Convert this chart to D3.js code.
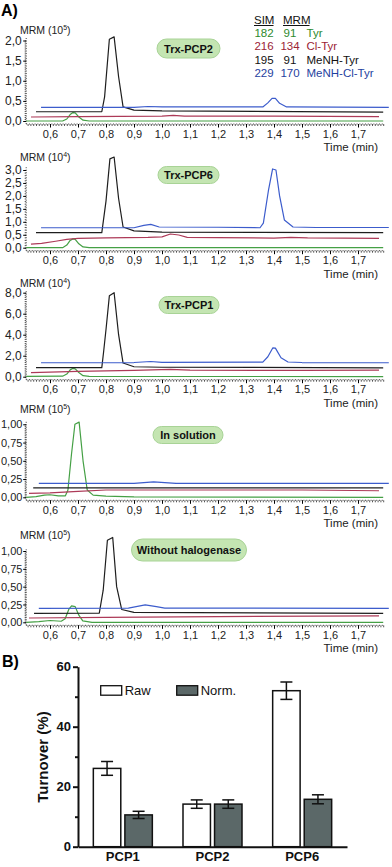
<!DOCTYPE html>
<html>
<head>
<meta charset="utf-8">
<script src="https://cdn.jsdelivr.net/npm/d3@7"></script>
<style>
body { margin: 0; background: #fff; }
svg { display: block; font-family: "Liberation Sans", Arial, sans-serif; }
</style>
</head>
<body>
<svg id="chart" width="392" height="867"></svg>
<script>
// ---- chromatogram data: [time (min), MRM intensity] ----
const timeTicks = [0.6, 0.7, 0.8, 0.9, 1.0, 1.1, 1.2, 1.3, 1.4, 1.5, 1.6, 1.7];

const tyrPCP2 = [[0.515,0],[0.645,0],[0.66,0.05],[0.672,0.16],[0.682,0.21],[0.69,0.2],[0.703,0.1],[0.718,0.02],[0.74,0],[1.79,0]];
const clTyrPCP2 = [[0.532,0.1],[0.7,0.11],[1.0,0.12],[1.04,0.14],[1.08,0.12],[1.4,0.12],[1.775,0.11]];
const meTyrPCP2 = [[0.55,0.23],[0.785,0.23],[0.795,0.6],[0.812,2.03],[0.829,2.09],[0.845,1.1],[0.861,0.35],[0.9,0.27],[1.0,0.25],[1.79,0.22]];
const meClTyrPCP2 = [[0.568,0.34],[0.9,0.34],[0.95,0.36],[1.0,0.35],[1.36,0.35],[1.378,0.45],[1.393,0.56],[1.405,0.56],[1.42,0.44],[1.445,0.35],[1.81,0.34]];

const tyrPCP6 = [[0.515,0],[0.645,0],[0.66,0.1],[0.672,0.28],[0.682,0.34],[0.69,0.32],[0.703,0.15],[0.718,0.03],[0.74,0],[1.79,0]];
const clTyrPCP6 = [[0.532,0.14],[0.57,0.17],[0.62,0.25],[0.66,0.32],[0.7,0.36],[0.8,0.38],[0.95,0.4],[1.0,0.42],[1.03,0.53],[1.06,0.49],[1.09,0.4],[1.2,0.39],[1.4,0.37],[1.46,0.4],[1.52,0.38],[1.65,0.37],[1.775,0.36]];
const meTyrPCP6 = [[0.55,0.58],[0.785,0.58],[0.8,1.8],[0.814,3.43],[0.829,3.5],[0.845,1.9],[0.861,0.8],[0.9,0.65],[1.0,0.6],[1.79,0.58]];
const meClTyrPCP6 = [[0.568,0.77],[0.9,0.77],[0.935,0.86],[0.96,0.9],[0.99,0.8],[1.2,0.79],[1.35,0.77],[1.362,0.95],[1.38,2.2],[1.395,3.04],[1.407,3.0],[1.42,2.0],[1.437,1.07],[1.468,0.8],[1.55,0.78],[1.81,0.78]];

const tyrPCP1 = [[0.515,0.03],[0.645,0.05],[0.66,0.25],[0.672,0.65],[0.682,0.8],[0.69,0.75],[0.703,0.4],[0.718,0.1],[0.74,0.04],[1.79,0]];
const clTyrPCP1 = [[0.532,0.38],[0.7,0.5],[0.9,0.6],[1.03,0.7],[1.1,0.62],[1.5,0.6],[1.775,0.62]];
const meTyrPCP1 = [[0.55,0.86],[0.785,0.86],[0.792,2.5],[0.8,4.5],[0.812,7.7],[0.829,8.0],[0.845,4.0],[0.861,1.3],[0.9,0.95],[1.0,0.9],[1.79,0.85]];
const meClTyrPCP1 = [[0.568,1.33],[0.9,1.35],[0.96,1.45],[1.0,1.37],[1.36,1.38],[1.378,1.9],[1.396,2.75],[1.405,2.72],[1.425,1.8],[1.45,1.4],[1.5,1.35],[1.81,1.33]];

const tyrSol = [[0.515,0],[0.55,0.01],[0.58,0.03],[0.6,0.035],[0.63,0.02],[0.655,0.02],[0.664,0.1],[0.677,0.6],[0.689,1.0],[0.704,1.03],[0.718,0.5],[0.733,0.1],[0.754,0.03],[0.8,0.015],[0.9,0.005],[1.79,0]];
const clTyrSol = [[0.525,0.055],[0.6,0.06],[0.7,0.08],[0.8,0.1],[1.0,0.1],[1.3,0.1],[1.5,0.1],[1.775,0.09]];
const meTyrSol = [[0.54,0.13],[1.79,0.13]];
const meClTyrSol = [[0.56,0.19],[0.9,0.19],[0.97,0.21],[1.05,0.19],[1.81,0.19]];

const tyrNoHal = [[0.515,0],[0.56,0.01],[0.6,0.025],[0.64,0.015],[0.654,0.05],[0.667,0.18],[0.677,0.23],[0.69,0.22],[0.703,0.1],[0.717,0.02],[0.75,0],[1.79,0]];
const clTyrNoHal = [[0.525,0.06],[0.8,0.07],[1.2,0.08],[1.775,0.09]];
const meTyrNoHal = [[0.543,0.125],[0.776,0.13],[0.79,0.45],[0.805,1.15],[0.824,1.19],[0.838,0.5],[0.856,0.18],[0.9,0.14],[1.79,0.125]];
const meClTyrNoHal = [[0.56,0.195],[0.88,0.2],[0.94,0.245],[0.98,0.22],[1.01,0.2],[1.81,0.195]];

const yTicksPCP2 = [0, 0.5, 1.0, 1.5, 2.0];
const yTicksPCP6 = [0, 0.5, 1.0, 1.5, 2.0, 2.5, 3.0];
const yTicksPCP1 = [0, 2, 4, 6, 8];
const yTicksSol = [0, 0.25, 0.5, 0.75, 1.0];

// legend
const simMass = [182, 216, 195, 229];
const mrmMass = [91, 134, 91, 170];
const compounds = ['Tyr', 'Cl-Tyr', 'MeNH-Tyr', 'MeNH-Cl-Tyr'];

// ---- bar chart data ----
const categories = ['PCP1', 'PCP2', 'PCP6'];
const rawTurnover = [26.1, 14.2, 52.0];
const rawErr = [2.3, 1.4, 2.9];
const normTurnover = [10.6, 14.2, 15.8];
const normErr = [1.2, 1.4, 1.5];
const barTicks = [0, 20, 40, 60];

const traceColors = ['#45a045', '#ad3a58', '#1e1e1e', '#3c5ccc'];
const legendColors = ['#2d8a2d', '#9b2335', '#111', '#1f3fa0'];

const svg = d3.select('#chart');

const x = d3.scaleLinear().domain([0.6, 1.7]).range([50, 358]);
const xStart = 0.515, xEnd = 1.79;

const panels = [
    {title: 'Trx-PCP2', exp: 5, traces: [tyrPCP2, clTyrPCP2, meTyrPCP2, meClTyrPCP2], yMax: 2, ticks: yTicksPCP2, dec: 1, minor: 0.05,
     zero: 121, top: 40.5, mrmY: 30, badge: [157, 39, 63, 19]},
    {title: 'Trx-PCP6', exp: 4, traces: [tyrPCP6, clTyrPCP6, meTyrPCP6, meClTyrPCP6], yMax: 3, ticks: yTicksPCP6, dec: 1, minor: 0.1,
     zero: 247.7, top: 170, mrmY: 157, badge: [158, 166.5, 61, 17]},
    {title: 'Trx-PCP1', exp: 4, traces: [tyrPCP1, clTyrPCP1, meTyrPCP1, meClTyrPCP1], yMax: 8, ticks: yTicksPCP1, dec: 1, minor: 0.2,
     zero: 376.7, top: 292.7, mrmY: 283, badge: [159, 296.5, 60, 17]},
    {title: 'In solution', exp: 5, traces: [tyrSol, clTyrSol, meTyrSol, meClTyrSol], yMax: 1, ticks: yTicksSol, dec: 2, minor: 0.025,
     zero: 497.3, top: 424.3, mrmY: 409, badge: [153, 426.5, 70, 17]},
    {title: 'Without halogenase', exp: 5, traces: [tyrNoHal, clTyrNoHal, meTyrNoHal, meClTyrNoHal], yMax: 1, ticks: yTicksSol, dec: 2, minor: 0.025,
     zero: 622.3, top: 551, mrmY: 535, badge: [131.5, 539, 115, 22]}
];

const comma = dec => d => d.toFixed(dec).replace('.', ',');

svg.append('text')
    .attr('x', 1).attr('y', 16)
    .style('font-size', '16px').style('font-weight', 'bold')
    .text('A)');

panels.forEach(p => {
    const g = svg.append('g');
    const y = d3.scaleLinear().domain([0, p.yMax]).range([p.zero, p.top]);
    const axisY = p.zero + 3;

    // x axis: dotted minor ticks + major ticks
    g.append('line')
        .attr('x1', x(xStart)).attr('x2', x(xEnd))
        .attr('y1', axisY).attr('y2', axisY)
        .attr('stroke', '#444').attr('stroke-width', 1)
        .attr('stroke-dasharray', '1,1.8');
    const xMinor = g.append('g')
        .attr('transform', `translate(0,${axisY})`)
        .call(d3.axisBottom(x).tickValues(d3.range(0.52, 1.795, 0.01)).tickSize(2).tickFormat(''));
    xMinor.select('.domain').remove();
    xMinor.selectAll('line').attr('stroke', '#555');
    const xMajor = g.append('g')
        .attr('transform', `translate(0,${axisY})`)
        .call(d3.axisBottom(x).tickValues(timeTicks).tickSize(3.5).tickPadding(2.5).tickFormat(comma(1)));
    xMajor.select('.domain').remove();
    xMajor.selectAll('text').style('font-size', '11px').attr('fill', '#222');

    g.append('text')
        .attr('x', 378).attr('y', p.zero + 30)
        .attr('text-anchor', 'end')
        .style('font-size', '11.5px').attr('fill', '#222')
        .text('Time (min)');

    // y axis
    const axisX = x(xStart);
    g.append('line')
        .attr('x1', axisX).attr('x2', axisX)
        .attr('y1', axisY).attr('y2', y(p.yMax) - 3)
        .attr('stroke', '#444').attr('stroke-width', 1)
        .attr('stroke-dasharray', '1,1.5');
    const yMinor = g.append('g')
        .attr('transform', `translate(${axisX},0)`)
        .call(d3.axisLeft(y).tickValues(d3.range(0, p.yMax + p.minor / 2, p.minor)).tickSize(1.5).tickFormat(''));
    yMinor.select('.domain').remove();
    yMinor.selectAll('line').attr('stroke', '#555');
    const yMajor = g.append('g')
        .attr('transform', `translate(${axisX},0)`)
        .call(d3.axisLeft(y).tickValues(p.ticks).tickSize(3).tickPadding(p.dec === 2 ? 0.8 : 1.5).tickFormat(comma(p.dec)));
    yMajor.select('.domain').remove();
    yMajor.selectAll('text').style('font-size', p.dec === 2 ? '11px' : '12px').attr('fill', '#222');

    const mrm = g.append('text')
        .attr('x', 20).attr('y', p.mrmY + 3.5)
        .style('font-size', '10.5px').attr('fill', '#222');
    mrm.append('tspan').text('MRM (10');
    mrm.append('tspan').attr('dy', -4).style('font-size', '7px').text(p.exp);
    mrm.append('tspan').attr('dy', 4).text(')');

    // traces
    const line = d3.line().x(d => x(d[0])).y(d => y(d[1]));
    g.selectAll('path.trace')
        .data(p.traces)
        .join('path')
        .attr('class', 'trace')
        .attr('d', line)
        .attr('fill', 'none')
        .attr('stroke', (d, i) => traceColors[i])
        .attr('stroke-width', 1.2)
        .attr('stroke-linejoin', 'round');

    // label badge
    const [bx, by, bw, bh] = p.badge;
    g.append('rect')
        .attr('x', bx).attr('y', by).attr('width', bw).attr('height', bh)
        .attr('rx', bh / 2).attr('ry', bh / 2)
        .attr('fill', '#c4e5b2').attr('stroke', '#a8d396').attr('stroke-width', 1);
    g.append('text')
        .attr('x', bx + bw / 2).attr('y', by + bh / 2 + 4)
        .attr('text-anchor', 'middle')
        .style('font-size', '11px').style('font-weight', 'bold').attr('fill', '#111')
        .text(p.title);
});

// legend (first panel)
const leg = svg.append('g').style('font-size', '11.5px');
leg.append('text').attr('x', 254).attr('y', 24).attr('fill', '#111').text('SIM');
leg.append('text').attr('x', 283).attr('y', 24).attr('fill', '#111').text('MRM');
leg.append('line').attr('x1', 254).attr('x2', 273.5).attr('y1', 25.5).attr('y2', 25.5).attr('stroke', '#111');
leg.append('line').attr('x1', 283).attr('x2', 309.5).attr('y1', 25.5).attr('y2', 25.5).attr('stroke', '#111');
compounds.forEach((c, i) => {
    const yy = 37.3 + i * 13.1;
    leg.append('text').attr('x', 264).attr('y', yy).attr('text-anchor', 'middle').attr('fill', legendColors[i]).text(simMass[i]);
    leg.append('text').attr('x', 290).attr('y', yy).attr('text-anchor', 'middle').attr('fill', legendColors[i]).text(mrmMass[i]);
    leg.append('text').attr('x', 306.5).attr('y', yy).attr('fill', legendColors[i]).text(c);
});

// ---- B) bar chart ----
svg.append('text')
    .attr('x', 2).attr('y', 667)
    .style('font-size', '16px').style('font-weight', 'bold')
    .text('B)');

const yB = d3.scaleLinear().domain([0, 60]).range([846.7, 666.7]);
const xB = d3.scaleBand().domain(categories).range([78, 347]);
const xSub = d3.scaleBand().domain(['raw', 'norm']).range([-29.5, 29.5]).paddingInner(0.13);

const bars = svg.append('g');
const series = [
    {key: 'raw', values: rawTurnover, err: rawErr, fill: '#fff'},
    {key: 'norm', values: normTurnover, err: normErr, fill: '#5b6868'}
];
series.forEach(s => {
    const data = categories.map((c, i) => ({c, v: s.values[i], e: s.err[i]}));
    const bx = d => xB(d.c) + xB.bandwidth() / 2 + xSub(s.key);
    bars.selectAll(null)
        .data(data)
        .join('rect')
        .attr('x', bx)
        .attr('y', d => yB(d.v))
        .attr('width', xSub.bandwidth())
        .attr('height', d => yB(0) - yB(d.v))
        .attr('fill', s.fill)
        .attr('stroke', '#111').attr('stroke-width', 1.5);
    const eb = bars.selectAll(null)
        .data(data)
        .join('g')
        .attr('stroke', '#111').attr('stroke-width', 1.5);
    const cx = d => bx(d) + xSub.bandwidth() / 2;
    eb.append('line').attr('x1', cx).attr('x2', cx).attr('y1', d => yB(d.v + d.e)).attr('y2', d => yB(d.v - d.e));
    eb.append('line').attr('x1', d => cx(d) - 6).attr('x2', d => cx(d) + 6).attr('y1', d => yB(d.v + d.e)).attr('y2', d => yB(d.v + d.e));
    eb.append('line').attr('x1', d => cx(d) - 6).attr('x2', d => cx(d) + 6).attr('y1', d => yB(d.v - d.e)).attr('y2', d => yB(d.v - d.e));
});

// axes
const yAxisB = svg.append('g')
    .attr('transform', 'translate(78,0)')
    .call(d3.axisLeft(yB).tickValues(barTicks).tickSize(5).tickPadding(2).tickSizeOuter(0));
yAxisB.select('.domain').attr('stroke-width', 2).attr('stroke', '#111');
yAxisB.selectAll('line').attr('stroke-width', 2).attr('stroke', '#111');
yAxisB.selectAll('text').style('font-size', '13px').style('font-weight', 'bold').attr('fill', '#111');
const yMinorB = svg.append('g')
    .attr('transform', 'translate(78,0)')
    .call(d3.axisLeft(yB).tickValues([10, 30, 50]).tickSize(3).tickFormat(''));
yMinorB.select('.domain').remove();
yMinorB.selectAll('line').attr('stroke-width', 2).attr('stroke', '#111');

const xAxisB = svg.append('g')
    .attr('transform', `translate(0,${yB(0)})`)
    .call(d3.axisBottom(xB).tickSize(0).tickPadding(5).tickSizeOuter(0));
xAxisB.select('.domain').attr('stroke-width', 2).attr('stroke', '#111');
xAxisB.selectAll('text').style('font-size', '13px').style('font-weight', 'bold').attr('fill', '#111');

svg.append('text')
    .attr('transform', 'translate(48,757) rotate(-90)')
    .attr('text-anchor', 'middle')
    .style('font-size', '15px').style('font-weight', 'bold').attr('fill', '#111')
    .text('Turnover (%)');

// bar legend
const legB = svg.append('g');
[['Raw', '#fff', 100.7], ['Norm.', '#5b6868', 176.7]].forEach(([name, fill, lx]) => {
    legB.append('rect')
        .attr('x', lx).attr('y', 685.7).attr('width', 21).attr('height', 9.5)
        .attr('fill', fill).attr('stroke', '#111').attr('stroke-width', 1.3);
    legB.append('text')
        .attr('x', lx + 24).attr('y', 695.2)
        .style('font-size', '13px').attr('fill', '#111')
        .text(name);
});
</script>
</body>
</html>
